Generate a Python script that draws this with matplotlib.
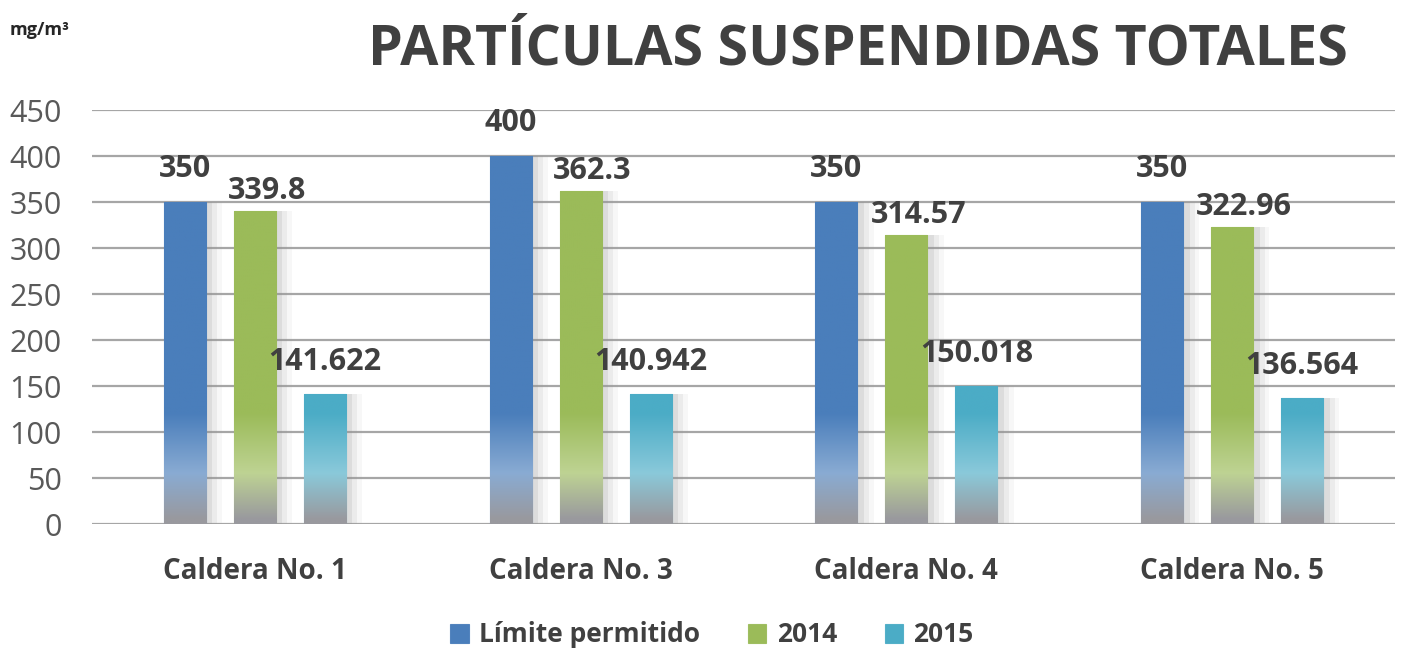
import numpy as np
import matplotlib
matplotlib.use('Agg')
from matplotlib import pyplot as plt, colors as mcolors

categories = ['Caldera No. 1', 'Caldera No. 3', 'Caldera No. 4', 'Caldera No. 5']
series_names = ['Límite permitido', '2014', '2015']
limite = [350, 400, 350, 350]
v2014 = [339.8, 362.3, 314.57, 322.96]
v2015 = [141.622, 140.942, 150.018, 136.564]
label_text = [['350', '400', '350', '350'],
              ['339.8', '362.3', '314.57', '322.96'],
              ['141.622', '140.942', '150.018', '136.564']]
y_ticks = [0, 50, 100, 150, 200, 250, 300, 350, 400, 450]

BAR_COLORS = ['#4a7ebb', '#9bbb59', '#4bacc6']
TEXT_COLOR = '#404040'
FONT = ['Open Sans', 'DejaVu Sans']
BAR_W = 0.129
BAR_STEP = 0.215
LABEL_OFF_PX = [33, 20, 32]


def gradient_fill(ax, patch, color):
    # vertical gradient: solid top, lighter mid-low, greyish reflection near the base
    x0, y0 = patch.get_x(), patch.get_y()
    w, h = patch.get_width(), patch.get_height()
    base = np.array(mcolors.to_rgb(color))
    light = base * 0.65 + 0.35
    grey = np.array([0.6, 0.6, 0.62])
    ys = np.linspace(0, h, 300)
    img = np.zeros((300, 1, 3))
    for i, yv in enumerate(ys):
        if yv > 120:
            c = base
        elif yv > 55:
            t = (120 - yv) / 65
            c = base * (1 - t) + light * t
        else:
            t = min(1.0, (55 - yv) / 50)
            c = light * (1 - t) + grey * t
        img[i, 0] = c
    im = ax.imshow(img, extent=(x0, x0 + w, y0, y0 + h), origin='lower',
                   aspect='auto', zorder=3, interpolation='bilinear')
    im.set_clip_path(patch)


fig = plt.figure(figsize=(14.02, 6.57), dpi=100)
ax = fig.add_axes([92 / 1402, 1 - 524 / 657, (1395 - 92) / 1402, (524 - 110) / 657])

x = np.arange(len(categories))
all_series = [limite, v2014, v2015]
handles = []
for k, vals in enumerate(all_series):
    pos = x + (k - 1) * BAR_STEP
    # soft shadow behind bars
    for off, a in [(0.02, 0.18), (0.035, 0.12), (0.05, 0.07)]:
        ax.bar(pos + off, vals, width=BAR_W, color='#9a9a9a', alpha=a,
               zorder=1, linewidth=0)
    bars = ax.bar(pos, vals, width=BAR_W, color=BAR_COLORS[k],
                  edgecolor=mcolors.to_rgba(BAR_COLORS[k], 0.9), linewidth=0.8,
                  zorder=2, label=series_names[k])
    handles.append(bars)
    for p in bars:
        gradient_fill(ax, p, BAR_COLORS[k])
    for i, p in enumerate(bars):
        dx = 12 if k == 1 else 0
        ax.annotate(label_text[k][i], (p.get_x() + p.get_width() / 2, p.get_height()),
                    xytext=(dx, LABEL_OFF_PX[k]), textcoords='offset pixels',
                    ha='center', va='center', fontsize=22, fontweight='bold',
                    color=TEXT_COLOR, family=FONT, zorder=5)

ax.set_xlim(-0.5, len(categories) - 0.5)
ax.set_ylim(0, 450)
ax.set_yticks(y_ticks)
ax.set_yticklabels([str(t) for t in y_ticks], fontsize=22, color='#595959',
                   family=FONT)
ax.set_xticks(x)
ax.set_xticklabels(categories, fontsize=20, fontweight='bold', color=TEXT_COLOR,
                   family=FONT)
ax.tick_params(axis='y', length=0, pad=22)
ax.tick_params(axis='x', length=0, pad=24)
for s in ax.spines.values():
    s.set_visible(False)
ax.set_facecolor('none')
ax.grid(axis='y', color='#a6a6a6', linewidth=1.6, zorder=0)
ax.set_axisbelow(True)

fig.text(10 / 1402, 1 - 30 / 657, 'mg/m³', fontsize=13, fontweight='bold',
         color='#262626', family=FONT, va='center')
fig.text(858 / 1402, 1 - 50 / 657, 'PARTÍCULAS SUSPENDIDAS TOTALES', fontsize=40,
         fontweight='bold', color=TEXT_COLOR, family=FONT, ha='center', va='center')

leg = fig.legend(handles=handles, labels=series_names, loc='center',
                 bbox_to_anchor=(712 / 1402, 1 - 635 / 657), ncol=3, frameon=False,
                 prop={'family': FONT, 'size': 19, 'weight': 'bold'},
                 handlelength=0.7, handleheight=0.7, columnspacing=1.8,
                 handletextpad=0.4)
for t in leg.get_texts():
    t.set_color(TEXT_COLOR)

fig.savefig('out.png', dpi=100, facecolor='white')
